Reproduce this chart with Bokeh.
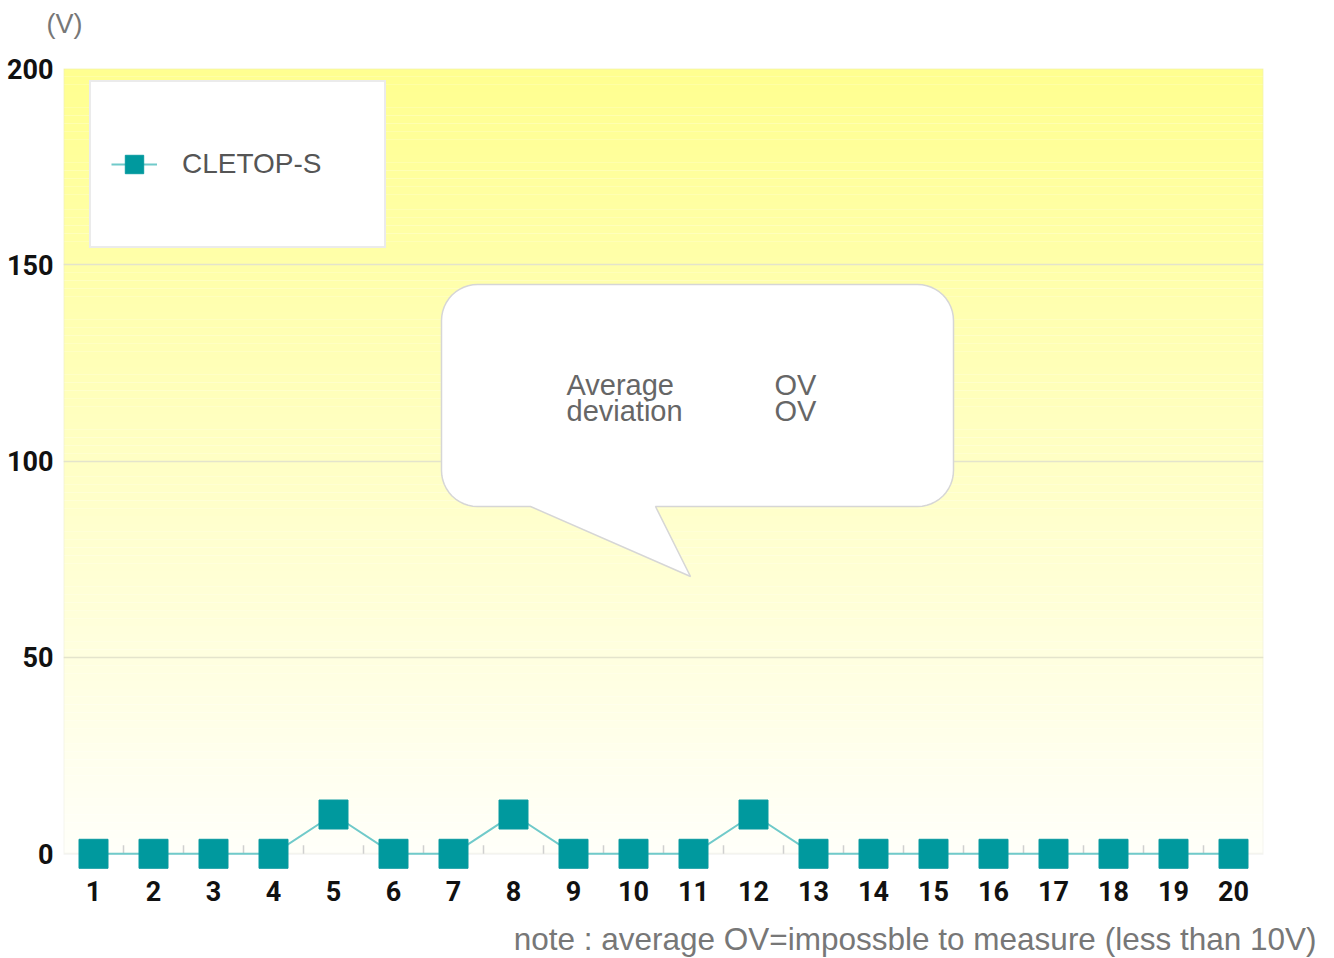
import math
from bokeh.plotting import figure
from bokeh.models import (Range1d, FixedTicker, Legend, LegendItem, BoxAnnotation,
                          Label, ColumnDataSource, Title, LinearAxis)
from bokeh.embed import file_html
from bokeh.resources import INLINE

# ---------------- data ----------------
samples = list(range(1, 21))
x_labels = [str(s) for s in samples]
voltage = [0, 0, 0, 0, 10, 0, 0, 10, 0, 0, 0, 10, 0, 0, 0, 0, 0, 0, 0, 0]
y_ticks = [0, 50, 100, 150, 200]
series_name = "CLETOP-S"
bubble_labels = ["Average", "deviation"]
bubble_values = ["OV", "OV"]
note_text = "note : average OV=impossble to measure (less than 10V)"
unit_text = "(V)"

# ---------------- layout ----------------
FRAME_W, FRAME_H = 1200, 801
X0, X1 = 0.5, 20.5
Y0, Y1 = -4, 200
PX_X = FRAME_W / (X1 - X0)
PX_Y = FRAME_H / (Y1 - Y0)
TICK_FONT = "Roboto"

def dx(px):  # pixel offset from frame left -> data x
    return X0 + px / PX_X

def dy(py):  # pixel offset from frame top -> data y
    return Y1 - py / PX_Y

p = figure(frame_width=FRAME_W, frame_height=FRAME_H,
           x_range=Range1d(X0, X1), y_range=Range1d(Y0, Y1),
           output_backend="svg", toolbar_location=None,
           min_border_left=63, min_border_right=60, min_border_top=68,
           min_border_bottom=86)
p.outline_line_color = None
p.background_fill_color = "white"
p.border_fill_color = "white"

# gradient background (styling only)
n = 100
top_c, bot_c = 143, 250
bb, bt, bc = [], [], []
for i in range(n):
    lo = y_ticks[0] + (y_ticks[-1] - y_ticks[0]) * i / n
    hi = y_ticks[0] + (y_ticks[-1] - y_ticks[0]) * (i + 1) / n
    f = (i + 0.5) / n
    b = int(round(bot_c + (top_c - bot_c) * f))
    bb.append(lo); bt.append(hi); bc.append("#ffff%02x" % b)
p.quad(left=X0, right=X1, bottom=bb, top=bt, fill_color=bc, line_color=None, level="image")

# grid
p.xgrid.visible = False
p.ygrid.ticker = FixedTicker(ticks=y_ticks[1:-1])
p.ygrid.grid_line_color = "#e4e4cc"
p.ygrid.grid_line_width = 1.5

# frame box
p.add_layout(BoxAnnotation(left=X0, right=X1, bottom=y_ticks[0], top=y_ticks[-1],
                           fill_color=None, line_color="#dcdcd4", line_width=2, level="underlay"))

# small ticks between categories
half = [s + 0.5 for s in samples[:-1]]
p.segment(x0=half, x1=half, y0=[0] * len(half), y1=[2.2] * len(half),
          line_color="#d0d0d0", line_width=1.5)

# axes
p.xaxis.ticker = FixedTicker(ticks=samples)
p.xaxis.major_label_overrides = {s: l for s, l in zip(samples, x_labels)}
p.yaxis.ticker = FixedTicker(ticks=y_ticks)
for ax in (p.xaxis[0], p.yaxis[0]):
    ax.axis_line_color = None
    ax.major_tick_line_color = None
    ax.minor_tick_line_color = None
    ax.major_tick_out = 0
    ax.major_tick_in = 0
    ax.major_label_text_font = TICK_FONT
    ax.major_label_text_font_style = "bold"
    ax.major_label_text_font_size = "27px"
    ax.major_label_text_color = "#111111"
p.xaxis.major_label_standoff = 11
p.yaxis.major_label_standoff = 10

# unit label "(V)" carried by an unlabelled axis above the frame
unit_x = dx(1)
unit_axis = LinearAxis(ticker=FixedTicker(ticks=[unit_x]),
                       major_label_overrides={unit_x: unit_text},
                       axis_line_color=None, major_tick_line_color=None,
                       minor_tick_line_color=None, major_tick_out=0, major_tick_in=0,
                       major_label_standoff=30, major_label_text_font="Liberation Sans",
                       major_label_text_font_size="27px", major_label_text_color="#777777")
p.add_layout(unit_axis, "above")

# speech bubble (decoration) in pixel coords relative to frame top-left
bl, br, btp, bbt = 441 - 63, 953 - 63, 284 - 68, 506 - 68
rad = 36
pts = []
def arc(cx, cy, a0, a1):
    for k in range(13):
        a = math.radians(a0 + (a1 - a0) * k / 12)
        pts.append((cx + rad * math.cos(a), cy - rad * math.sin(a)))
arc(bl + rad, btp + rad, 180, 90)
arc(br - rad, btp + rad, 90, 0)
arc(br - rad, bbt - rad, 0, -90)
pts.append((655 - 63, bbt))
pts.append((690 - 63, 576 - 68))
pts.append((530 - 63, bbt))
arc(bl + rad, bbt - rad, -90, -180)
p.patch(x=[dx(a) for a, _ in pts], y=[dy(b) for _, b in pts],
        fill_color="white", line_color="#d6d6d6", line_width=1.5)

for i, (lab, val) in enumerate(zip(bubble_labels, bubble_values)):
    yb = dy(384 - 68 + i * 26)
    p.add_layout(Label(x=dx(566 - 63), y=yb, text=lab, text_font="Liberation Sans",
                       text_font_size="29px", text_color="#666666",
                       text_baseline="alphabetic"))
    p.add_layout(Label(x=dx(774 - 63), y=yb, text=val, text_font="Liberation Sans",
                       text_font_size="29px", text_color="#666666",
                       text_baseline="alphabetic"))

# series
src = ColumnDataSource(dict(x=samples, y=voltage))
ln = p.line("x", "y", source=src, line_color="#70caca", line_width=2)
sc = p.scatter("x", "y", source=src, marker="square", size=29,
               fill_color="#00999e", line_color="#0a9aa0", line_width=1)

legend = Legend(items=[LegendItem(label=series_name, renderers=[ln, sc])],
                location=(26, 621), padding=20, spacing=0, margin=0,
                glyph_width=46, glyph_height=124, label_height=124, label_width=182,
                label_standoff=25, label_text_font="Liberation Sans",
                label_text_font_size="28px", label_text_color="#555555",
                border_line_color="#d8d8d8", border_line_width=2,
                background_fill_color="white", background_fill_alpha=1.0)
p.add_layout(legend, "center")

# note below
note_title = Title(text=note_text, align="right", offset=-53, standoff=30,
                   text_line_height=0.6,
                   text_font="Liberation Sans", text_font_size="31.5px",
                   text_color="#777777", text_font_style="normal")
p.add_layout(note_title, "below")

open("out.html", "w").write(file_html(p, INLINE))
